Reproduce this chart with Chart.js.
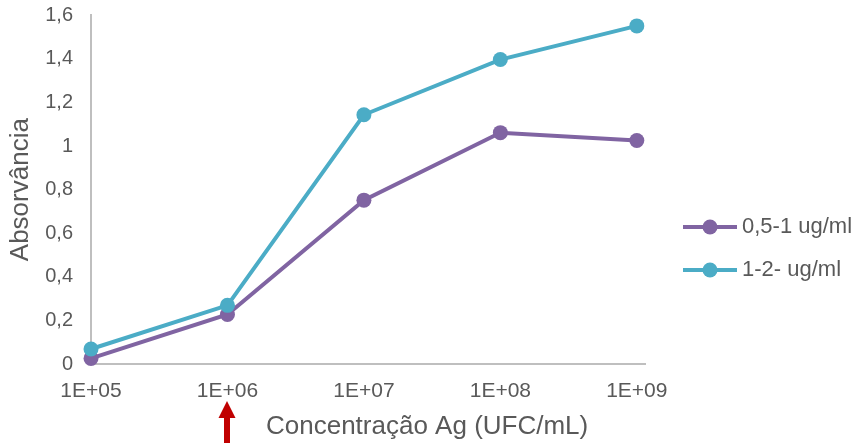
<!DOCTYPE html>
<html>
<head>
<meta charset="utf-8">
<script src="https://cdn.jsdelivr.net/npm/chart.js@4"></script>
<style>
  html, body { margin: 0; padding: 0; background: #fff; }
  #wrap { width: 863px; height: 443px; }
</style>
</head>
<body>
<div id="wrap"><canvas id="c"></canvas></div>
<script>
// Concentrations tested (x categories)
const concentrations = ['1E+05', '1E+06', '1E+07', '1E+08', '1E+09'];
// Absorbance per antibody concentration
const absorbLow = [0.027, 0.228, 0.752, 1.061, 1.025];   // 0,5-1 ug/ml
const absorbHigh = [0.070, 0.270, 1.143, 1.396, 1.550];  // 1-2- ug/ml
const seriesNames = ['0,5-1 ug/ml', '1-2- ug/ml'];
const yTicks = [0, 0.2, 0.4, 0.6, 0.8, 1, 1.2, 1.4, 1.6];
const xTitle = 'Concentração Ag (UFC/mL)';
const yTitle = 'Absorvância';
const markedIndex = 1; // concentration highlighted by the arrow

const PURPLE = '#8064A2';
const TEAL = '#4BACC6';
const TEXT = '#595959';
const AXIS = '#BFBFBF';
const FONT = "'Liberation Sans', Arial, sans-serif";

const nf = new Intl.NumberFormat('pt-BR', { maximumFractionDigits: 1 });

const toPoints = arr => arr.map((v, i) => ({ x: i, y: v }));

// Axis title under the x axis plus the red arrow marking a concentration
const annotations = {
  id: 'annotations',
  afterDraw(chart) {
    const ctx = chart.ctx;
    const xs = chart.scales.x;
    const ax = Math.round(xs.getPixelForValue(markedIndex));
    const H = chart.height;
    ctx.save();
    // arrow
    ctx.fillStyle = '#C00000';
    ctx.beginPath();
    ctx.moveTo(ax, 401);
    ctx.lineTo(ax + 8.5, 418);
    ctx.lineTo(ax + 3, 418);
    ctx.lineTo(ax + 3, H);
    ctx.lineTo(ax - 3, H);
    ctx.lineTo(ax - 3, 418);
    ctx.lineTo(ax - 8.5, 418);
    ctx.closePath();
    ctx.fill();
    // x axis title
    ctx.fillStyle = TEXT;
    ctx.font = '26px ' + FONT;
    ctx.textAlign = 'left';
    ctx.textBaseline = 'middle';
    ctx.fillText(xTitle, ax + 39, 427);
    ctx.restore();
  }
};

// Legend at the right: line with a round marker, then the series name
const lineLegend = {
  id: 'lineLegend',
  afterDraw(chart) {
    const ctx = chart.ctx;
    const x0 = chart.chartArea.right + 38;
    const rows = [227, 270];
    ctx.save();
    chart.data.datasets.forEach((ds, i) => {
      const y = rows[i];
      ctx.strokeStyle = ds.borderColor;
      ctx.lineWidth = 4;
      ctx.beginPath();
      ctx.moveTo(x0, y);
      ctx.lineTo(x0 + 54, y);
      ctx.stroke();
      ctx.fillStyle = ds.backgroundColor;
      ctx.beginPath();
      ctx.arc(x0 + 27, y, 7.5, 0, Math.PI * 2);
      ctx.fill();
      ctx.fillStyle = TEXT;
      ctx.font = '22px ' + FONT;
      ctx.textAlign = 'left';
      ctx.textBaseline = 'middle';
      ctx.fillText(ds.label, x0 + 59, y);
    });
    ctx.restore();
  }
};

new Chart(document.getElementById('c'), {
  type: 'line',
  data: {
    datasets: [
      {
        label: seriesNames[0],
        data: toPoints(absorbLow),
        borderColor: PURPLE,
        backgroundColor: PURPLE,
        borderWidth: 4,
        pointRadius: 7.5,
        pointBorderWidth: 0,
        pointBackgroundColor: PURPLE,
        tension: 0,
        clip: false,
        order: 2
      },
      {
        label: seriesNames[1],
        data: toPoints(absorbHigh),
        borderColor: TEAL,
        backgroundColor: TEAL,
        borderWidth: 4,
        pointRadius: 7.5,
        pointBorderWidth: 0,
        pointBackgroundColor: TEAL,
        tension: 0,
        clip: false,
        order: 1
      }
    ]
  },
  options: {
    responsive: true,
    maintainAspectRatio: false,
    animation: false,
    devicePixelRatio: 1,
    layout: { padding: { top: 15, right: 218, bottom: 25.5, left: 0 } },
    plugins: {
      legend: { display: false },
      tooltip: { enabled: false }
    },
    scales: {
      x: {
        type: 'linear',
        min: 0,
        max: concentrations.length - 1 + 0.06,
        grid: { display: false, drawTicks: false },
        border: { display: true, color: AXIS, width: 2 },
        afterBuildTicks: s => {
          s.ticks = concentrations.map((_, i) => ({ value: i }));
        },
        ticks: {
          padding: 14,
          color: TEXT,
          font: { family: FONT, size: 21 },
          maxRotation: 0,
          autoSkip: false,
          callback: v => concentrations[v]
        }
      },
      y: {
        min: 0,
        max: 1.6,
        grid: { display: false, drawTicks: false },
        border: { display: true, color: AXIS, width: 2 },
        afterFit: s => {
          s.width = 91;
          s.paddingTop = 0;
          s.paddingBottom = 0;
        },
        afterBuildTicks: s => {
          s.ticks = yTicks.map(v => ({ value: v }));
        },
        ticks: {
          padding: 18,
          color: TEXT,
          font: { family: FONT, size: 20 },
          callback: v => nf.format(v)
        },
        title: {
          display: true,
          text: yTitle,
          color: TEXT,
          font: { family: FONT, size: 26 },
          padding: { top: 5, bottom: 0 }
        }
      }
    }
  },
  plugins: [annotations, lineLegend]
});
</script>
</body>
</html>
